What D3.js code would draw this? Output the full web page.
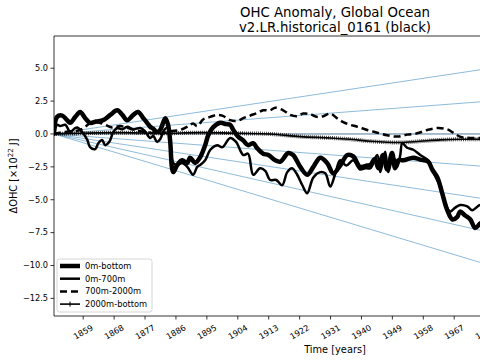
<!DOCTYPE html>
<html><head><meta charset="utf-8">
<script src="https://cdn.jsdelivr.net/npm/d3@7"></script>
<style>
html,body{margin:0;padding:0;background:#fff;}
svg{display:block;font-family:"DejaVu Sans",sans-serif;}
</style></head>
<body>
<svg id="c" width="480" height="360"></svg>
<script>
// ---------- data ----------
const titleLines = ["OHC Anomaly, Global Ocean", "v2.LR.historical_0161 (black)"];
const xTicks = [1859, 1868, 1877, 1886, 1895, 1904, 1913, 1922, 1931, 1940, 1949, 1958, 1967, 1976, 1985, 1994, 2003, 2012];
const yTicks = [-12.5, -10.0, -7.5, -5.0, -2.5, 0.0, 2.5, 5.0];
const legendLabels = ["0m-bottom", "0m-700m", "700m-2000m", "2000m-bottom"];

const yearsBottom = [1850.5,1851.4,1852.9,1854.3,1855.2,1856.7,1858.1,1859.6,1861.0,1862.8,1864.8,1866.9,1868.9,1870.4,1871.8,1873.6,1875.0,1876.5,1877.6,1878.5,1879.4,1880.5,1881.4,1882.9,1883.7,1884.3,1885.2,1886.4,1887.8,1889.3,1890.1,1891.6,1893.1,1894.5,1895.4,1896.8,1898.9,1900.6,1901.8,1902.7,1904.1,1905.6,1907.0,1908.5,1909.7,1911.4,1912.9,1914.9,1916.4,1918.7,1920.1,1922.2,1924.2,1926.0,1928.0,1930.0,1931.8,1933.8,1935.9,1937.6,1939.6,1941.7,1942.6,1943.9,1944.9,1946.3,1947.5,1948.9,1949.8,1950.7,1952.2,1955.1,1957.1,1959.4,1960.6,1962.1,1963.5,1965.0,1966.5,1967.9,1968.7,1970.2,1971.7,1973.1,1974.6,1976.0];
const valsBottom = [0,1.3,1.4,1.05,0.85,1.3,1.67,1.2,0.85,0.95,1.05,1.45,1.8,1.45,1.05,1.45,1.67,1.2,0.85,0.55,0.4,0.15,0.3,1.2,0.7,-0.5,-2.9,-2.35,-2.0,-2.2,-1.8,-2.2,-1.75,-0.85,-0.1,0.5,0.85,0.75,0.7,0.3,-0.2,-0.5,-0.85,-0.7,-1.1,-1.5,-1.6,-2.0,-2.1,-1.45,-1.6,-2.5,-3.1,-2.5,-1.8,-2.2,-3.0,-2.4,-1.6,-1.7,-2.5,-2.4,-2.35,-1.9,-2.6,-1.6,-2.7,-1.45,-2.6,-2.0,-2.0,-1.8,-1.95,-2.1,-2.7,-3.3,-4.5,-5.8,-6.5,-6.3,-5.9,-6.2,-6.5,-7.15,-6.8,-6.6];

const years700 = [1850.5,1851.4,1852.3,1853.8,1855.2,1856.4,1857.3,1858.7,1860.2,1861.0,1862.5,1863.4,1864.5,1865.4,1866.6,1867.7,1868.9,1870.4,1871.8,1873.6,1875.6,1877.0,1878.5,1879.4,1880.5,1881.4,1882.6,1883.5,1884.3,1885.2,1886.4,1887.8,1889.3,1891.0,1892.2,1893.1,1894.5,1896.0,1898.0,1899.5,1901.8,1903.5,1905.6,1907.0,1908.5,1910.5,1912.0,1913.4,1915.2,1916.9,1918.4,1919.8,1921.3,1922.8,1924.2,1926.0,1928.0,1929.5,1930.9,1932.4,1933.8,1935.6,1937.6,1939.6,1941.1,1942.6,1944.6,1945.5,1946.9,1947.8,1949.2,1950.4,1951.3,1951.9,1953.3,1955.1,1957.1,1959.4,1960.9,1962.9,1964.4,1965.8,1967.3,1968.7,1970.8,1972.2,1974.6,1976.0];
const vals700 = [0,0.7,0.6,0.7,0.15,0.4,0.5,0.15,-0.45,-1.0,-1.15,-0.7,-0.45,-0.85,-0.6,0.1,0.45,0.35,0.55,0.35,0.45,0.2,-0.3,-0.15,-0.6,-0.4,0.3,0.5,-0.6,-2.2,-2.35,-2.2,-2.5,-3.1,-2.5,-2.35,-2.0,-1.2,-0.85,-1.0,-0.3,-0.6,-1.6,-1.5,-3.1,-2.6,-2.8,-3.5,-3.5,-3.9,-2.9,-2.6,-3.1,-3.9,-4.5,-3.3,-2.9,-3.0,-4.0,-3.0,-2.0,-2.4,-2.0,-2.7,-2.6,-2.6,-1.6,-2.9,-1.35,-2.9,-1.7,-2.5,-1.6,-0.7,-1.05,-1.2,-1.6,-2.0,-2.9,-4.0,-5.3,-5.9,-5.6,-5.4,-5.5,-5.8,-5.4,-5.6];

const yearsMid = [1850.5,1852.3,1855.2,1858.1,1861.0,1863.1,1865.4,1867.4,1869.8,1872.7,1875.6,1878.5,1881.4,1884.3,1887.2,1889.6,1891.0,1892.2,1893.9,1896.0,1898.0,1899.5,1901.8,1903.8,1905.6,1907.6,1909.7,1911.4,1913.4,1914.9,1917.2,1919.3,1921.3,1923.0,1925.1,1927.1,1928.9,1930.9,1932.9,1934.7,1936.7,1938.8,1941.7,1944.6,1947.5,1950.4,1953.3,1956.2,1959.1,1962.1,1965.0,1966.7,1968.7,1971.7,1976.0];
const valsMid = [0,0.1,0.2,0.3,0.8,0.9,0.7,0.5,0.6,0.4,0.2,0.1,0.0,0.2,0.3,0.6,0.8,0.6,1.1,1.3,1.45,1.4,1.05,1.0,1.2,1.4,1.6,1.8,1.8,2.0,1.8,1.45,1.35,1.55,1.5,1.3,1.35,1.55,1.2,0.9,0.7,0.55,0.3,0.1,-0.1,-0.2,-0.05,0.05,0.3,0.45,0.35,0.1,-0.2,-0.3,-0.3];

const yearsDeep = [1850.5,1858.1,1869.8,1881.4,1893.1,1904.7,1913.4,1922.2,1930.9,1936.7,1942.6,1951.3,1957.1,1962.9,1968.7,1976.0];
const valsDeep = [0,0.05,0.1,0.05,0.1,0.05,0.0,-0.2,-0.3,-0.4,-0.55,-0.65,-0.55,-0.45,-0.4,-0.4];

// reference trend lines: value reached at refYear
const refYear = 1975;
const refValues = [4.9, 2.45, 0, -2.45, -4.9, -7.35, -9.8];

// ---------- layout ----------
const L = 54, T = 36, B = 316, R = 616;
const svg = d3.select("#c");
const x = d3.scaleLinear().domain([1850.5, 2014.1]).range([L, R]);
const y = d3.scaleLinear().domain([-13.84, 7.45]).range([B, T]);

svg.append("defs").append("clipPath").attr("id","clip")
  .append("rect").attr("x",L).attr("y",T).attr("width",R-L).attr("height",B-T);

const plot = svg.append("g").attr("clip-path","url(#clip)");

// reference lines
const x0 = x.domain()[0], x1 = x.domain()[1];
refValues.forEach(v => {
  const vEnd = v * (x1 - x0) / (refYear - x0);
  plot.append("line")
    .attr("x1", x(x0)).attr("y1", y(0))
    .attr("x2", x(x1)).attr("y2", y(vEnd))
    .attr("stroke", v === 0 ? "#3f6a93" : "#1f77b4")
    .attr("stroke-opacity", v === 0 ? 0.9 : 0.5)
    .attr("stroke-width", 1);
});

const line = d3.line().x(d => x(d[0])).y(d => y(d[1])).curve(d3.curveCatmullRom.alpha(0.5));
const zip = (a, b) => a.map((v, i) => [v, b[i]]);

plot.append("path").datum(zip(yearsBottom, valsBottom)).attr("d", line)
  .attr("fill","none").attr("stroke","#000").attr("stroke-width",4.5).attr("stroke-linejoin","round").attr("stroke-linecap","round");
plot.append("path").datum(zip(years700, vals700)).attr("d", line)
  .attr("fill","none").attr("stroke","#000").attr("stroke-width",2.5).attr("stroke-linejoin","round");
plot.append("path").datum(zip(yearsMid, valsMid)).attr("d", line)
  .attr("fill","none").attr("stroke","#000").attr("stroke-width",2.5).attr("stroke-dasharray","7,4");
const deep = zip(yearsDeep, valsDeep);
plot.append("path").datum(deep).attr("d", line)
  .attr("fill","none").attr("stroke","#000").attr("stroke-width",1.6);
plot.append("path").datum(deep).attr("d", line)
  .attr("fill","none").attr("stroke","#000").attr("stroke-width",4).attr("stroke-dasharray","0.7,1.3");

// ---------- axes ----------
const axG = svg.append("g").attr("font-size", 8.2).attr("fill","#000");
axG.append("line").attr("x1",L).attr("x2",L).attr("y1",T).attr("y2",B).attr("stroke","#000").attr("stroke-width",0.8);
axG.append("line").attr("x1",L).attr("x2",R).attr("y1",B).attr("y2",B).attr("stroke","#000").attr("stroke-width",0.8);
axG.append("line").attr("x1",L).attr("x2",R).attr("y1",T).attr("y2",T).attr("stroke","#000").attr("stroke-width",0.8);

const fmt = v => (v < 0 ? "\u2212" : "") + Math.abs(v).toFixed(1);
yTicks.forEach(v => {
  axG.append("line").attr("x1",L-3.5).attr("x2",L).attr("y1",y(v)).attr("y2",y(v)).attr("stroke","#000").attr("stroke-width",0.8);
  axG.append("text").attr("x",L-6).attr("y",y(v)).attr("dy","0.35em").attr("text-anchor","end").text(fmt(v));
});
xTicks.forEach(v => {
  const px = x(v);
  axG.append("line").attr("x1",px).attr("x2",px).attr("y1",B).attr("y2",B+3.5).attr("stroke","#000").attr("stroke-width",0.8);
  axG.append("text").attr("transform",`translate(${px},${B+16}) rotate(-30)`)
    .attr("text-anchor","middle").attr("dy","0.35em").text(v);
});

// labels
svg.append("text").attr("x", (L+R)/2).attr("y", 353).attr("text-anchor","middle").attr("font-size",9.8).text("Time [years]");
const yl = svg.append("text").attr("transform",`translate(17,${(T+B)/2}) rotate(-90)`).attr("text-anchor","middle").attr("font-size",9.8);
yl.append("tspan").text("\u0394OHC [\u00d710");
yl.append("tspan").attr("dy",-4).attr("font-size",7).text("22");
yl.append("tspan").attr("dy",4).text(" J]");

// title
titleLines.forEach((t, i) => {
  svg.append("text").attr("x", (L+R)/2).attr("y", 17 + i*14.5).attr("text-anchor","middle").attr("font-size",13.3).text(t);
});

// legend
const lg = svg.append("g").attr("font-size", 8.3);
lg.append("rect").attr("x",57).attr("y",259).attr("width",95).attr("height",53).attr("rx",2.5)
  .attr("fill","#fff").attr("fill-opacity",0.8).attr("stroke","#ccc").attr("stroke-width",0.8);
const lStyles = [
  {w:4.5, dash:null, marker:false},
  {w:2.5, dash:null, marker:false},
  {w:2.5, dash:"7,4", marker:false},
  {w:1.6, dash:null, marker:true}
];
legendLabels.forEach((lab, i) => {
  const cy = 266 + i*12.7;
  const s = lStyles[i];
  const ln = lg.append("line").attr("x1",60).attr("x2",80).attr("y1",cy).attr("y2",cy).attr("stroke","#000").attr("stroke-width",s.w);
  if (s.dash) ln.attr("stroke-dasharray", s.dash);
  if (s.marker) {
    lg.append("line").attr("x1",70).attr("x2",70).attr("y1",cy-2.5).attr("y2",cy+2.5).attr("stroke","#000").attr("stroke-width",1);
  }
  lg.append("text").attr("x",85).attr("y",cy).attr("dy","0.35em").text(lab);
});
</script>
</body></html>
